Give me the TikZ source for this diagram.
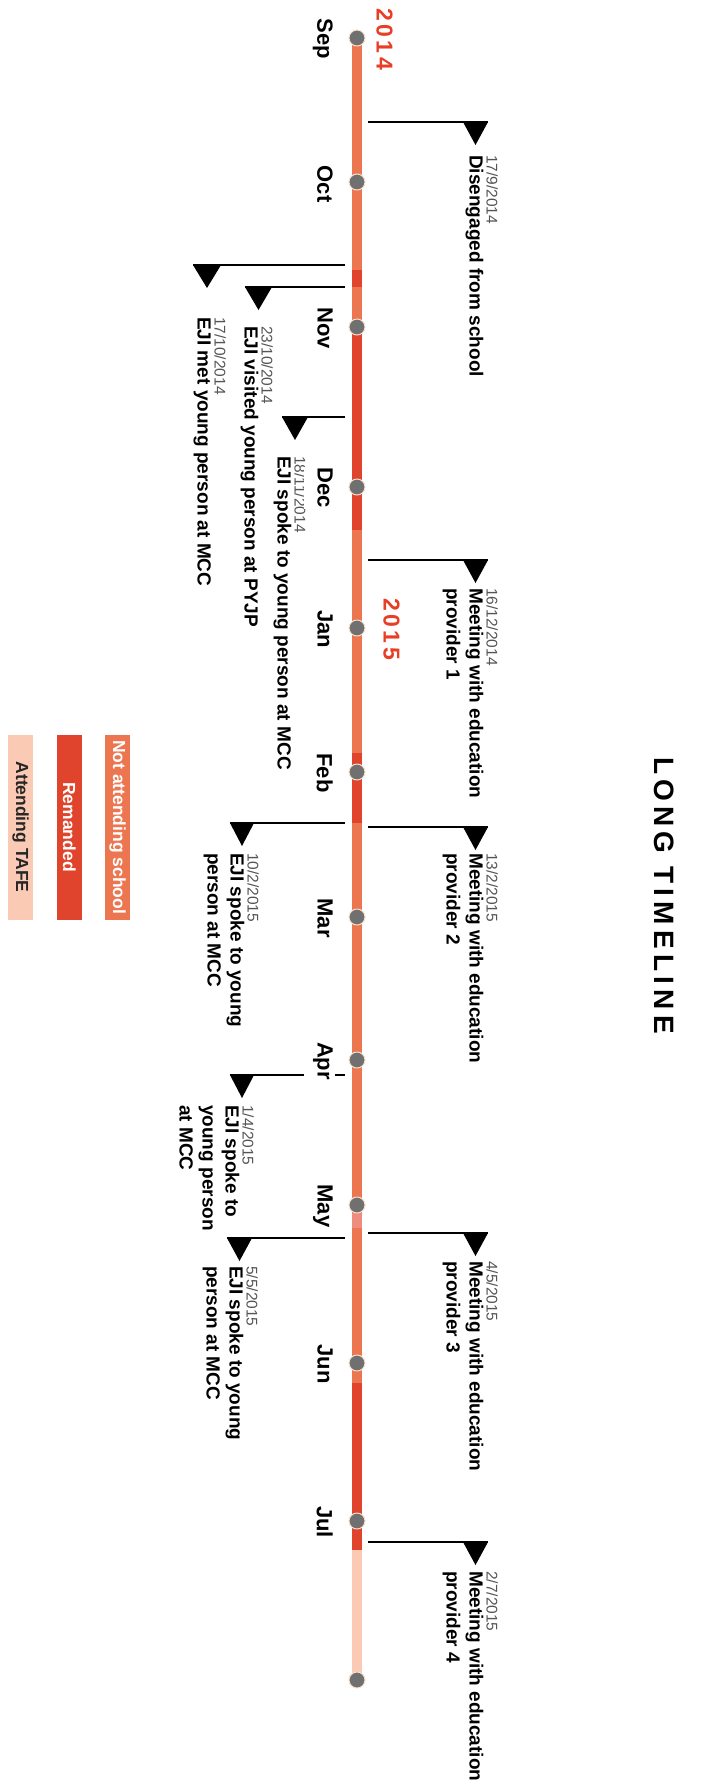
\documentclass[tikz,border=0pt]{standalone}
\usepackage{fontspec}
\setmainfont{Liberation Sans}
\definecolor{notatt}{RGB}{236,118,80}
\definecolor{remand}{RGB}{224,68,44}
\definecolor{tafe}{RGB}{250,202,180}
\definecolor{pinkish}{RGB}{238,140,128}
\definecolor{yearred}{RGB}{232,62,38}
\definecolor{dotgray}{RGB}{112,112,112}
\definecolor{dotrim}{RGB}{245,225,205}
\definecolor{dategray}{RGB}{85,85,85}
\newcommand\dte[1]{{\fontsize{15.5}{17}\selectfont\mdseries\color{dategray}#1}}
\newcommand\tk{\kern5.2pt}
\newcommand\yk{\kern3.5pt}
\begin{document}
\begin{tikzpicture}[x=1pt,y=-1pt,
  dot/.style={circle, fill=dotgray, draw=dotrim, line width=1pt, minimum size=16pt, inner sep=0pt},
  month/.style={rotate=-90, anchor=north, fill=white, inner xsep=1pt, inner ysep=2pt, text depth=12pt, font=\fontsize{22}{24}\selectfont\bfseries},
  year/.style={rotate=-90, anchor=north, inner sep=0pt, text=yearred, font=\fontsize{23}{25}\selectfont\bfseries},
  conn/.style={draw=black, line width=1.8pt},
  tri/.style={fill=black},
  evt/.style={rotate=-90, anchor=north west, align=left, inner sep=0pt, font=\fontsize{19}{23}\selectfont\bfseries},
  legend/.style={rotate=-90, minimum width=185pt, minimum height=25pt, inner sep=0pt, font=\fontsize{17.5}{19}\selectfont\bfseries}
]
\useasboundingbox (0,0) rectangle (711,1789);
\fill[white] (0,0) rectangle (711,1789);

% title
\node[rotate=-90, anchor=north west, inner sep=0pt, font=\fontsize{28}{30}\selectfont\bfseries] (title) at (674,757)
  {L\tk O\tk N\tk G\tk\ T\tk I\tk M\tk E\tk L\tk I\tk N\tk E};

% bar segments
\fill[notatt] (352,38) rectangle (362,270);
\fill[remand] (352,270) rectangle (362,287);
\fill[notatt] (352,287) rectangle (362,320);
\fill[remand] (352,320) rectangle (362,530);
\fill[notatt] (352,530) rectangle (362,753);
\fill[remand] (352,753) rectangle (362,823);
\fill[notatt] (352,823) rectangle (362,1213);
\fill[pinkish] (352,1213) rectangle (362,1228);
\fill[notatt] (352,1228) rectangle (362,1383);
\fill[remand] (352,1383) rectangle (362,1550);
\fill[tafe] (352,1550) rectangle (362,1680);

% right-side events
\coordinate (r1a) at (368,122); \coordinate (r1b) at (488,122);
\draw[conn] (r1a) -- (r1b);
\fill[tri] (r1b) -- ++(-25,0) -- ++(12.5,23) -- cycle;
\node[evt] (t1) at (498,155) {\dte{17/9/2014}\\[-6pt]Disengaged from school};

\coordinate (r2a) at (368,560); \coordinate (r2b) at (488,560);
\draw[conn] (r2a) -- (r2b);
\fill[tri] (r2b) -- ++(-25,0) -- ++(12.5,23) -- cycle;
\node[evt] (t2) at (498,588) {\dte{16/12/2014}\\[-6pt]Meeting with education\\provider 1};

\coordinate (r3a) at (368,827); \coordinate (r3b) at (488,827);
\draw[conn] (r3a) -- (r3b);
\fill[tri] (r3b) -- ++(-25,0) -- ++(12.5,23) -- cycle;
\node[evt] (t3) at (498,853) {\dte{13/2/2015}\\[-6pt]Meeting with education\\provider 2};

\coordinate (r4a) at (368,1233); \coordinate (r4b) at (488,1233);
\draw[conn] (r4a) -- (r4b);
\fill[tri] (r4b) -- ++(-25,0) -- ++(12.5,23) -- cycle;
\node[evt] (t4) at (498,1261) {\dte{4/5/2015}\\[-6pt]Meeting with education\\provider 3};

\coordinate (r5a) at (368,1542); \coordinate (r5b) at (488,1542);
\draw[conn] (r5a) -- (r5b);
\fill[tri] (r5b) -- ++(-25,0) -- ++(12.5,23) -- cycle;
\node[evt] (t5) at (498,1571) {\dte{2/7/2015}\\[-6pt]Meeting with education\\provider 4};

% left-side events
\coordinate (l6a) at (193,265); \coordinate (l6b) at (345,265);
\draw[conn] (l6a) -- (l6b);
\fill[tri] (l6a) -- ++(28,0) -- ++(-14,23) -- cycle;
\node[evt] (t6) at (226,317) {\dte{17/10/2014}\\[-6pt]EJI met young person at MCC};

\coordinate (l7a) at (245,287); \coordinate (l7b) at (345,287);
\draw[conn] (l7a) -- (l7b);
\fill[tri] (l7a) -- ++(27,0) -- ++(-13.5,23) -- cycle;
\node[evt] (t7) at (273,326) {\dte{23/10/2014}\\[-6pt]EJI visited young person at PYJP};

\coordinate (l8a) at (282,417); \coordinate (l8b) at (345,417);
\draw[conn] (l8a) -- (l8b);
\fill[tri] (l8a) -- ++(26,0) -- ++(-13,23) -- cycle;
\node[evt] (t8) at (306,456) {\dte{18/11/2014}\\[-6pt]EJI spoke to young person at MCC};

\coordinate (l9a) at (230,823); \coordinate (l9b) at (345,823);
\draw[conn] (l9a) -- (l9b);
\fill[tri] (l9a) -- ++(24,0) -- ++(-12,23) -- cycle;
\node[evt] (t9) at (259,853) {\dte{10/2/2015}\\[-6pt]EJI spoke to young\\person at MCC};

\coordinate (l10a) at (230,1075); \coordinate (l10b) at (345,1075);
\draw[conn] (l10a) -- (l10b);
\fill[tri] (l10a) -- ++(24,0) -- ++(-12,23) -- cycle;
\node[evt] (t10) at (254,1105) {\dte{1/4/2015}\\[-6pt]EJI spoke to\\young person\\at MCC};

\coordinate (l11a) at (227,1238); \coordinate (l11b) at (345,1238);
\draw[conn] (l11a) -- (l11b);
\fill[tri] (l11a) -- ++(25,0) -- ++(-12.5,23) -- cycle;
\node[evt] (t11) at (258,1266) {\dte{5/5/2015}\\[-6pt]EJI spoke to young\\person at MCC};

% month dots
\node[dot] (mSep) at (357,38) {};
\node[dot] (mOct) at (357,182) {};
\node[dot] (mNov) at (357,327) {};
\node[dot] (mDec) at (357,487) {};
\node[dot] (mJan) at (357,628) {};
\node[dot] (mFeb) at (357,772) {};
\node[dot] (mMar) at (357,917) {};
\node[dot] (mApr) at (357,1060) {};
\node[dot] (mMay) at (357,1205) {};
\node[dot] (mJun) at (357,1363) {};
\node[dot] (mJul) at (357,1521) {};
\node[dot] (mEnd) at (357,1680) {};

% month labels
\node[month] (lSep) at (335,39) {Sep};
\node[month] (lOct) at (335,184) {Oct};
\node[month] (lNov) at (335,328) {Nov};
\node[month] (lDec) at (335,488) {Dec};
\node[month] (lJan) at (335,629) {Jan};
\node[month] (lFeb) at (335,773) {Feb};
\node[month] (lMar) at (335,918) {Mar};
\node[month] (lApr) at (335,1061) {Apr};
\node[month] (lMay) at (335,1206) {May};
\node[month] (lJun) at (335,1364) {Jun};
\node[month] (lJul) at (335,1522) {Jul};

% years
\node[year] (y2014) at (393,39) {2\yk0\yk1\yk4};
\node[year] (y2015) at (400,629) {2\yk0\yk1\yk5};

% legend
\node[legend, fill=notatt, text=white] (lg1) at (117.5,827) {Not attending school};
\node[legend, fill=remand, text=white] (lg2) at (69.5,827) {Remanded};
\node[legend, fill=tafe, text=black!85] (lg3) at (20.5,827) {Attending TAFE};
\end{tikzpicture}
\end{document}
